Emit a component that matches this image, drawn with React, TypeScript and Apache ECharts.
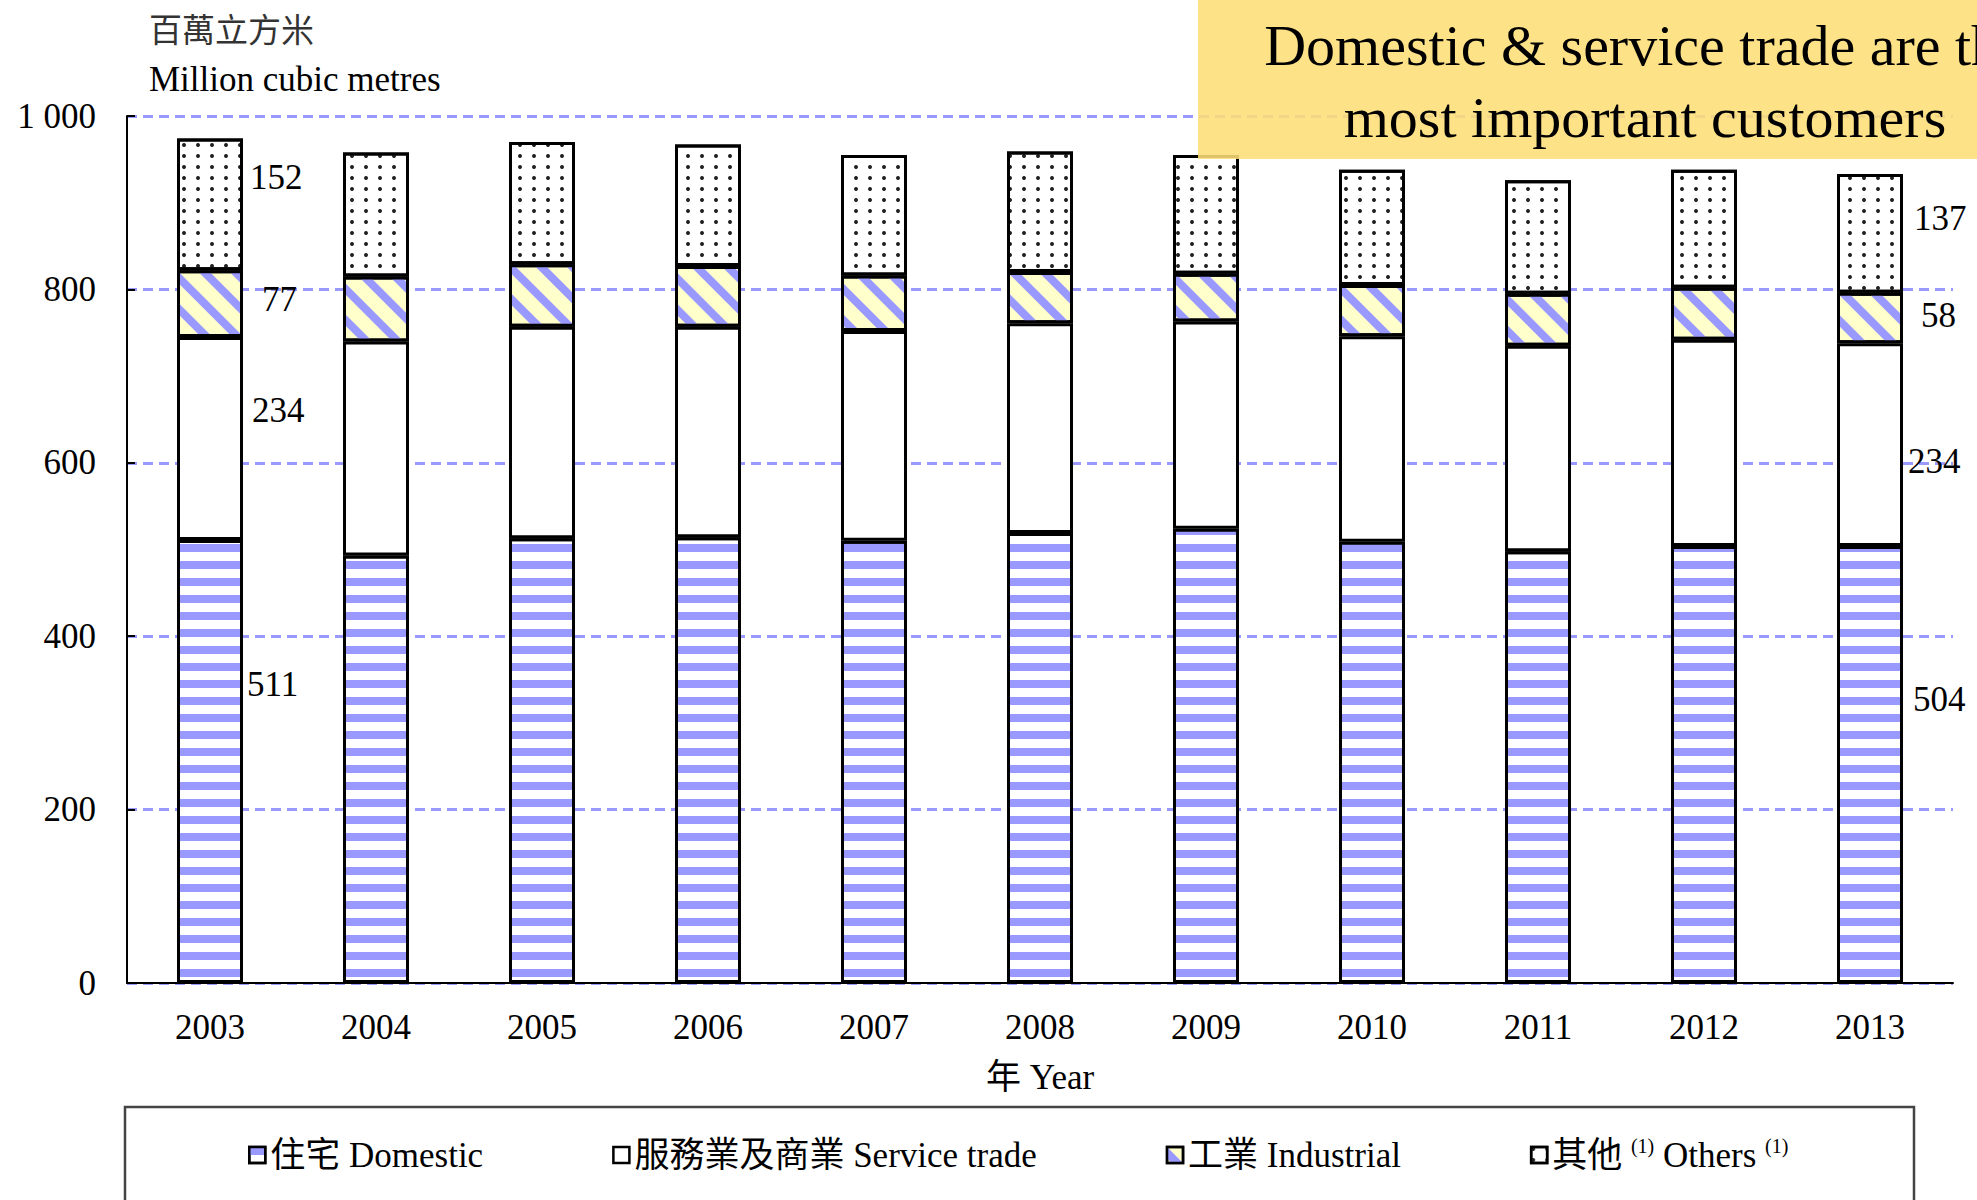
import React, { useEffect, useRef } from 'react';
import * as echarts from 'echarts';

const years = ['2003', '2004', '2005', '2006', '2007', '2008', '2009', '2010', '2011', '2012', '2013'];
const domestic = [511, 493, 513, 514, 510, 519, 524, 509, 498, 504, 504];
const service = [234, 247, 244, 243, 242, 242, 239, 237, 237, 238, 234];
const industrial = [77, 75, 72, 70, 64, 59, 55, 59, 60, 60, 58];
const others = [152, 143, 141, 140, 139, 139, 137, 133, 131, 136, 137];
const seriesNames = ['住宅 Domestic', '服務業及商業 Service trade', '工業 Industrial', '其他 Others'];
const yMin = 0;
const yMax = 1000;
const yStep = 200;
const unitZh = '百萬立方米';
const unitEn = 'Million cubic metres';
const xName = '年 Year';
const noteLines = ['Domestic & service trade are the', 'most important customers'];

const SERIF = '"Liberation Serif", "Times New Roman", "Noto Sans CJK TC", serif';
const BLUE = '#9999ff';

export default function App() {
  const ref = useRef<HTMLDivElement>(null);

  useEffect(() => {
    if (!ref.current) return;
    const chart = echarts.init(ref.current, null, { renderer: 'svg' });

    const lastIdx = years.length - 1;
    // label offsets [first bar, last bar] per series (styling only)
    const labelOffsets = [
      [[-1, -77], [5, -65]],
      [[4, -28], [0, 17]],
      [[14, -4], [13, -3]],
      [[2, -27], [6, -15]],
    ];
    const styles = [
      {
        color: '#ffffff',
        decal: {
          symbol: 'rect', symbolSize: 1, symbolKeepAspect: false, color: BLUE,
          dashArrayX: [100, 0], dashArrayY: [8, 9], rotation: 0,
        },
      },
      { color: '#ffffff' },
      {
        color: '#ffffcc',
        decal: {
          symbol: 'rect', symbolSize: 1, symbolKeepAspect: false, color: BLUE,
          dashArrayX: [100, 0], dashArrayY: [8, 14], rotation: Math.PI / 4,
        },
      },
      {
        color: '#ffffff',
        decal: {
          symbol: 'circle', symbolSize: 1, symbolKeepAspect: true, color: '#222222',
          dashArrayX: [3.5, 9.5], dashArrayY: [3.5, 6.5], rotation: 0,
        },
      },
    ];
    const values = [domestic, service, industrial, others];

    const series = values.map((arr, si) => ({
      name: seriesNames[si],
      type: 'bar',
      stack: 'total',
      barWidth: 66,
      itemStyle: { ...styles[si], borderColor: '#000', borderWidth: 3 },
      emphasis: { disabled: true },
      data: arr.map((v, i) => {
        const isEnd = i === 0 || i === lastIdx;
        return {
          value: v,
          label: isEnd
            ? {
                show: true,
                position: 'right',
                distance: 5,
                offset: labelOffsets[si][i === 0 ? 0 : 1],
                fontSize: 35,
                fontFamily: SERIF,
                color: '#000',
              }
            : { show: false },
        };
      }),
    }));

    chart.setOption({
      animation: false,
      backgroundColor: '#ffffff',
      grid: { left: 127, right: 24, top: 116, bottom: 217, containLabel: false },
      xAxis: {
        type: 'category',
        data: years,
        axisLine: { show: true, lineStyle: { color: '#000', width: 2 } },
        axisTick: { show: false },
        axisLabel: { fontSize: 35, fontFamily: SERIF, color: '#000', margin: 27 },
        name: xName,
        nameLocation: 'middle',
        nameGap: 77,
        nameTextStyle: { fontSize: 35, fontFamily: SERIF, color: '#000' },
      },
      yAxis: {
        type: 'value',
        min: yMin,
        max: yMax,
        interval: yStep,
        axisLine: { show: true, lineStyle: { color: '#000', width: 2 } },
        axisTick: { show: true, inside: true, length: 8, lineStyle: { color: '#000', width: 2 } },
        axisLabel: {
          fontSize: 35,
          fontFamily: SERIF,
          color: '#000',
          margin: 31,
          formatter: (v: number) => (v >= 1000 ? String(v).replace(/(\d)(?=(\d{3})+$)/g, '$1 ') : String(v)),
        },
        splitLine: { show: true, lineStyle: { color: BLUE, type: [10, 6], width: 3 } },
      },
      legend: {
        data: seriesNames,
        left: 243,
        top: 1131,
        icon: 'rect',
        itemWidth: 16,
        itemHeight: 16,
        itemGap: 129,
        itemStyle: { borderColor: '#000', borderWidth: 2.5 },
        selectedMode: false,
        formatter: (name: string) =>
          name === seriesNames[3] ? '其他 {sup|(1)} Others {sup|(1)}' : name,
        textStyle: {
          fontSize: 35,
          fontFamily: SERIF,
          color: '#000',
          rich: {
            sup: { fontSize: 20, fontFamily: SERIF, color: '#000', verticalAlign: 'top', padding: [0, 0, 18, 0] },
          },
        },
      },
      graphic: [
        {
          type: 'rect',
          z: 1,
          shape: { x: 125, y: 1107, width: 1789, height: 130 },
          style: { fill: 'none', stroke: '#444', lineWidth: 2.5 },
        },
        {
          type: 'text',
          x: 149,
          y: 28,
          style: {
            text: unitZh, fontSize: 33, fontFamily: '"Noto Sans CJK TC", sans-serif', fill: '#333',
            align: 'left', verticalAlign: 'middle', textAlign: 'left', textVerticalAlign: 'middle',
          },
        },
        {
          type: 'text',
          x: 149,
          y: 79,
          style: {
            text: unitEn, fontSize: 35, fontFamily: SERIF, fill: '#000',
            align: 'left', verticalAlign: 'middle', textAlign: 'left', textVerticalAlign: 'middle',
          },
        },
        {
          type: 'rect',
          z: 100,
          shape: { x: 1198, y: 0, width: 779, height: 159 },
          style: { fill: 'rgba(253, 222, 118, 0.88)' },
        },
        {
          type: 'text',
          z: 101,
          x: 1645,
          y: 45,
          style: {
            text: noteLines[0], fontSize: 58, fontFamily: SERIF, fill: '#000',
            align: 'center', verticalAlign: 'middle', textAlign: 'center', textVerticalAlign: 'middle',
          },
        },
        {
          type: 'text',
          z: 101,
          x: 1645,
          y: 117,
          style: {
            text: noteLines[1], fontSize: 58, fontFamily: SERIF, fill: '#000',
            align: 'center', verticalAlign: 'middle', textAlign: 'center', textVerticalAlign: 'middle',
          },
        },
      ],
      series,
    });

    return () => chart.dispose();
  }, []);

  return (
    <div
      ref={ref}
      style={{ position: 'fixed', left: 0, top: 0, width: 1977, height: 1200, background: '#fff' }}
    />
  );
}
